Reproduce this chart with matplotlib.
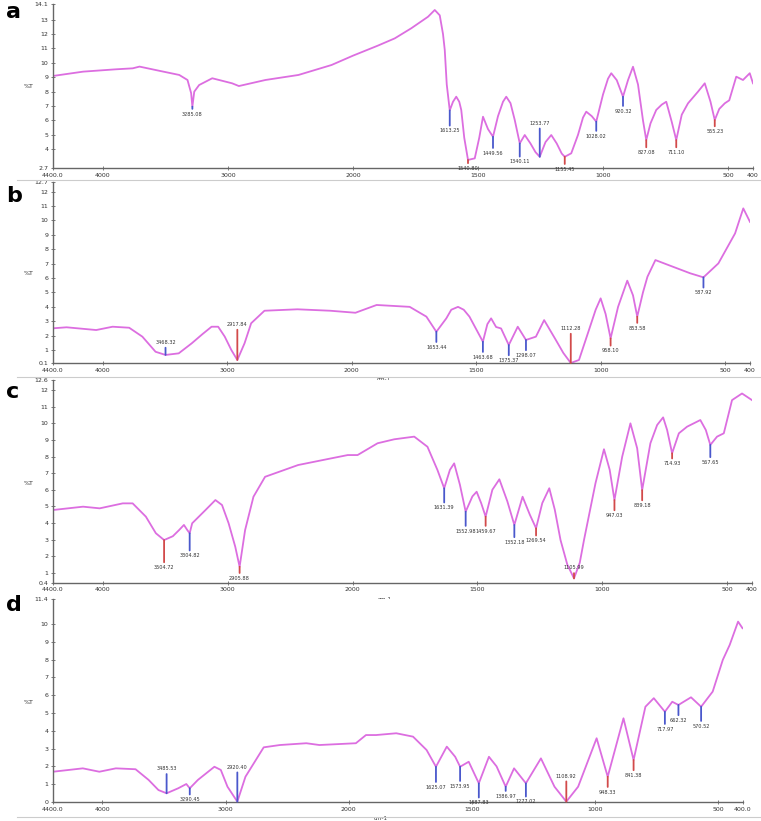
import matplotlib
matplotlib.use('agg')
import numpy as np
import matplotlib.pyplot as plt
from matplotlib.lines import Line2D

# ---- spectra (wavenumber cm-1, %T) ----
wn_a = [4400, 4159, 3900, 3762, 3708, 3550, 3390, 3324, 3295, 3285, 3270, 3231, 3126, 2967, 2913,
        2701, 2436, 2172, 2000, 1900, 1833, 1767, 1700, 1673, 1653, 1640, 1633, 1625, 1613, 1600,
        1587, 1575, 1567, 1555, 1540, 1513, 1495, 1480, 1460, 1440, 1420, 1400, 1387, 1370, 1353,
        1333, 1313, 1290, 1270, 1253, 1230, 1207, 1185, 1165, 1153, 1127, 1100, 1080, 1067, 1045,
        1027, 1000, 980, 967, 945, 920, 900, 880, 860, 840, 827, 810, 787, 765, 747, 725, 707,
        685, 660, 620, 593, 570, 553, 535, 513, 495, 467, 440, 413, 400]
t_a = [9.09, 9.39, 9.55, 9.62, 9.74, 9.45, 9.16, 8.81, 7.9, 6.96, 8.0, 8.46, 8.93, 8.58, 8.39,
       8.81, 9.16, 9.85, 10.5, 11.2, 11.7, 12.4, 13.2, 13.67, 13.3, 12.0, 10.9, 8.5, 6.7, 7.3,
       7.65, 7.3, 6.73, 4.8, 3.26, 3.37, 4.8, 6.26, 5.4, 4.87, 6.3, 7.3, 7.65, 7.2, 6.03,
       4.41, 4.99, 4.4, 3.8, 3.48, 4.5, 4.99, 4.4, 3.7, 3.48, 3.72, 5.0, 6.2, 6.61, 6.3,
       5.92, 7.8, 8.9, 9.28, 8.8, 7.65, 8.8, 9.73, 8.5, 6.0, 4.64, 5.8, 6.73, 7.1, 7.3, 5.9, 4.64,
       6.4, 7.19, 8.0, 8.58, 7.3, 6.03, 6.8, 7.19, 7.4, 9.04, 8.81, 9.28, 8.58]

wn_b = [4400, 4291, 4053, 3921, 3788, 3682, 3576, 3496, 3390, 3285, 3200, 3126, 3073, 3020, 2967,
        2919, 2861, 2808, 2701, 2436, 2172, 1985, 1900, 1767, 1700, 1660, 1620, 1600, 1573, 1550,
        1527, 1473, 1455, 1440, 1420, 1400, 1369, 1333, 1300, 1260, 1227, 1180, 1150, 1120, 1087,
        1047, 1020, 1000, 980, 960, 930, 893, 870, 853, 830, 812, 780, 727, 640, 587, 527, 460,
        427, 400]
t_b = [2.51, 2.58, 2.39, 2.62, 2.55, 1.93, 0.88, 0.66, 0.77, 1.47, 2.1, 2.62, 2.62, 1.93, 1.0,
       0.31, 1.47, 2.86, 3.73, 3.83, 3.73, 3.59, 4.13, 4.0, 3.32, 2.27, 3.2, 3.8, 4.0, 3.8,
       3.32, 1.58, 2.8, 3.2, 2.6, 2.5, 1.35, 2.62, 1.7, 1.93, 3.08, 1.7, 0.8, 0.1, 0.31,
       2.39, 3.8, 4.59, 3.5, 1.81, 4.0, 5.82, 4.8, 3.32, 5.0, 6.09, 7.25, 6.9, 6.33, 6.05, 7.02, 9.1,
       10.84, 9.9]

wn_c = [4400, 4159, 4026, 3841, 3762, 3656, 3576, 3510, 3440, 3390, 3351, 3324, 3305, 3285, 3178,
        3099, 3046, 2993, 2940, 2905, 2861, 2794, 2701, 2436, 2304, 2172, 2039, 1980, 1900, 1833,
        1753, 1700, 1660, 1633, 1610, 1593, 1570, 1547, 1520, 1503, 1485, 1467, 1440, 1412, 1380,
        1352, 1319, 1290, 1265, 1240, 1212, 1190, 1167, 1140, 1113, 1090, 1073, 1027, 993, 970,
        951, 920, 887, 860, 840, 807, 780, 756, 740, 720, 693, 660, 607, 585, 567, 540, 513, 480,
        440, 400]
t_c = [4.78, 4.98, 4.88, 5.18, 5.18, 4.38, 3.38, 2.97, 3.2, 3.57, 3.88, 3.57, 3.38, 3.98, 4.78,
       5.38, 5.08, 3.98, 2.57, 1.36, 3.57, 5.58, 6.78, 7.49, 7.69, 7.89, 8.09, 8.09, 8.8, 9.04,
       9.2, 8.59, 7.19, 6.09, 7.2, 7.59, 6.3, 4.68, 5.6, 5.88, 5.2, 4.38, 6.0, 6.63, 5.3,
       3.88, 5.58, 4.5, 3.68, 5.2, 6.09, 4.8, 2.97, 1.5, 0.66, 1.6, 2.97, 6.39, 8.44, 7.2,
       5.38, 7.99, 10.0, 8.5, 5.98, 8.8, 9.9, 10.36, 9.6, 8.2, 9.4, 9.8, 10.2, 9.6, 8.7, 9.2, 9.4, 11.4,
       11.8, 11.4]

wn_d = [4400, 4158, 4024, 3890, 3730, 3624, 3544, 3478, 3384, 3318, 3290, 3224, 3090, 3038, 2984,
        2904, 2838, 2690, 2558, 2344, 2238, 1971, 1930, 1889, 1807, 1739, 1684, 1646, 1602, 1568,
        1548, 1513, 1472, 1431, 1400, 1363, 1329, 1281, 1220, 1165, 1117, 1069, 994, 949, 885,
        844, 796, 762, 717, 687, 662, 611, 570, 523, 482, 454, 420, 402]
t_d = [1.7, 1.89, 1.7, 1.89, 1.84, 1.24, 0.67, 0.49, 0.77, 1.01, 0.77, 1.24, 1.98, 1.8, 0.86,
       0.02, 1.42, 3.07, 3.2, 3.3, 3.2, 3.3, 3.76, 3.76, 3.86, 3.67, 2.92, 1.98, 3.11, 2.54,
       1.98, 2.26, 1.05, 2.54, 2.0, 0.86, 1.89, 1.05, 2.45, 0.86, 0.02, 0.86, 3.58, 1.42, 4.7,
       2.36, 5.35, 5.83, 5.07, 5.63, 5.45, 5.88, 5.35, 6.2, 7.98, 8.82, 10.13, 9.76]

# ---- labelled peaks: wavenumber, label, colour ('b' / 'r') ----
pk_a = [3285, 1613, 1540, 1440, 1333, 1253, 1153, 1027, 920, 827, 707, 553]
lb_a = ['3285.08', '1613.25', '1540.80', '1449.56', '1340.11', '1253.77', '1155.45',
        '1028.02', '920.32', '827.08', '711.10', '555.23']
cl_a = ['b', 'b', 'r', 'b', 'b', 'b', 'r', 'b', 'b', 'r', 'r', 'r']
off_a = [5, 18, 6, 14, 16, -31, 10, 12, 12, 10, 10, 9]

pk_b = [3496, 2919, 1660, 1473, 1369, 1300, 1120, 960, 853, 587]
lb_b = ['3468.32', '2917.84', '1653.44', '1463.68', '1375.37', '1298.07', '1112.28',
        '958.10', '853.58', '587.92']
cl_b = ['b', 'r', 'b', 'b', 'b', 'b', 'r', 'r', 'r', 'b']
off_b = [-10, -33, 13, 13, 13, 13, -32, 10, 9, 13]

pk_c = [3510, 3305, 2905, 1633, 1547, 1467, 1352, 1265, 1113, 951, 840, 720, 567]
lb_c = ['3504.72', '3304.82', '2905.88', '1631.39', '1552.98', '1459.67', '1352.18',
        '1269.54', '1105.99', '947.03', '839.18', '714.93', '567.65']
cl_c = ['r', 'b', 'r', 'b', 'b', 'r', 'b', 'r', 'r', 'r', 'r', 'r', 'b']
off_c = [25, 20, 9, 17, 17, 12, 15, 10, -8, 13, 13, 8, 15]

pk_d = [3478, 3290, 2904, 1646, 1548, 1472, 1363, 1281, 1117, 949, 844, 717, 662, 570]
lb_d = ['3485.53', '3290.45', '2920.40', '1625.07', '1573.95', '1487.83', '1386.97',
        '1277.02', '1108.92', '948.33', '841.38', '717.97', '662.32', '570.52']
cl_d = ['b', 'b', 'b', 'b', 'b', 'b', 'b', 'b', 'r', 'r', 'r', 'b', 'b', 'b']
off_d = [-22, 9, -32, 18, 17, 17, 7, 16, -23, 13, 13, 15, 13, 17]

xticks = [4400, 4000, 3000, 2000, 1500, 1000, 500, 400]


def fwd(w):
    w = np.asarray(w, float)
    return np.where(w > 2000, 2000 + (w - 2000) * 0.5, w)


def inv(u):
    u = np.asarray(u, float)
    return np.where(u > 2000, 2000 + (u - 2000) * 2.0, u)


W, H = 761, 821
fig = plt.figure(figsize=(W / 100, H / 100), dpi=100)

line_col = '#dc6ee0'
mark_col = {'b': '#4a58cc', 'r': '#d24a4a'}
txt_col = '#333333'

# panel: data, peaks, y range, pixel box (left, right, top, bottom), letter y
panels = [
    ('a', wn_a, t_a, pk_a, lb_a, cl_a, off_a, (2.7, 14.1), (53, 753, 3.8, 168), 12, '400'),
    ('b', wn_b, t_b, pk_b, lb_b, cl_b, off_b, (0.1, 12.7), (53, 750, 181.6, 363), 196, '400'),
    ('c', wn_c, t_c, pk_c, lb_c, cl_c, off_c, (0.4, 12.6), (53, 752, 380.2, 582.7), 392, '400'),
    ('d', wn_d, t_d, pk_d, lb_d, cl_d, off_d, (0.0, 11.4), (53, 743, 599, 802), 605, '400.0'),
]

for letter, wn, tt, pk, lb, cl, off, ylim, box, ly, lastlab in panels:
    l, r, t, b = box
    ax = fig.add_axes([l / W, 1 - b / H, (r - l) / W, (b - t) / H])
    ax.set_xscale('function', functions=(fwd, inv))
    ax.plot(wn, tt, color=line_col, lw=1.3, solid_joinstyle='round')
    ax.set_xlim(4400, 400)
    ax.set_ylim(*ylim)

    for s in ['top', 'right']:
        ax.spines[s].set_visible(False)
    for s in ['left', 'bottom']:
        ax.spines[s].set_color('#666666')
        ax.spines[s].set_linewidth(1.0)

    ax.set_xticks(xticks)
    ax.set_xticklabels(['4400.0', '4000', '3000', '2000', '1500', '1000', '500', lastlab])
    ax.xaxis.set_minor_locator(plt.NullLocator())
    lo, hi = ylim
    yt = [hi] + list(range(int(np.floor(hi - 0.5)), int(np.ceil(lo + 0.5)) - 1, -1)) + [lo]
    ax.set_yticks(yt)
    ax.set_yticklabels(['%.1f' % v if v not in range(0, 20) or v in (lo, hi) and v != int(v)
                        else '%d' % v for v in yt])
    ax.tick_params(axis='both', labelsize=4.5, colors='#666666', labelcolor=txt_col,
                   length=2.5, width=0.6, direction='inout', pad=2)

    ax.set_ylabel('%T', rotation=0, fontsize=4.5, color=txt_col)
    ax.yaxis.set_label_coords(-0.035, 0.48)
    ax.annotate('cm-1', xy=(1870, 0), xycoords=ax.get_xaxis_transform(),
                xytext=(0, -12), textcoords='offset points', fontsize=4,
                color=txt_col, ha='center', va='center')

    wr = np.array(wn)[::-1]
    tr = np.array(tt)[::-1]
    for w, s, c, o in zip(pk, lb, cl, off):
        y0 = np.interp(w, wr, tr)
        ax.annotate(s, xy=(w, y0), xytext=(0, -o * 0.72), textcoords='offset points',
                    fontsize=3.6, color=txt_col, ha='center',
                    va='top' if o > 0 else 'bottom',
                    arrowprops=dict(arrowstyle='-', color=mark_col[c], lw=1.3,
                                    shrinkA=0, shrinkB=0))

    fig.text(6 / W, 1 - ly / H, letter, fontsize=16, fontweight='bold',
             ha='left', va='center', color='black')

# thin frame lines under panels
for yy in [180, 377, 817]:
    fig.add_artist(Line2D([17 / W, 1.0], [1 - yy / H, 1 - yy / H], color='#cccccc', lw=0.8))

fig.savefig('out.png', dpi=100, facecolor='white')
